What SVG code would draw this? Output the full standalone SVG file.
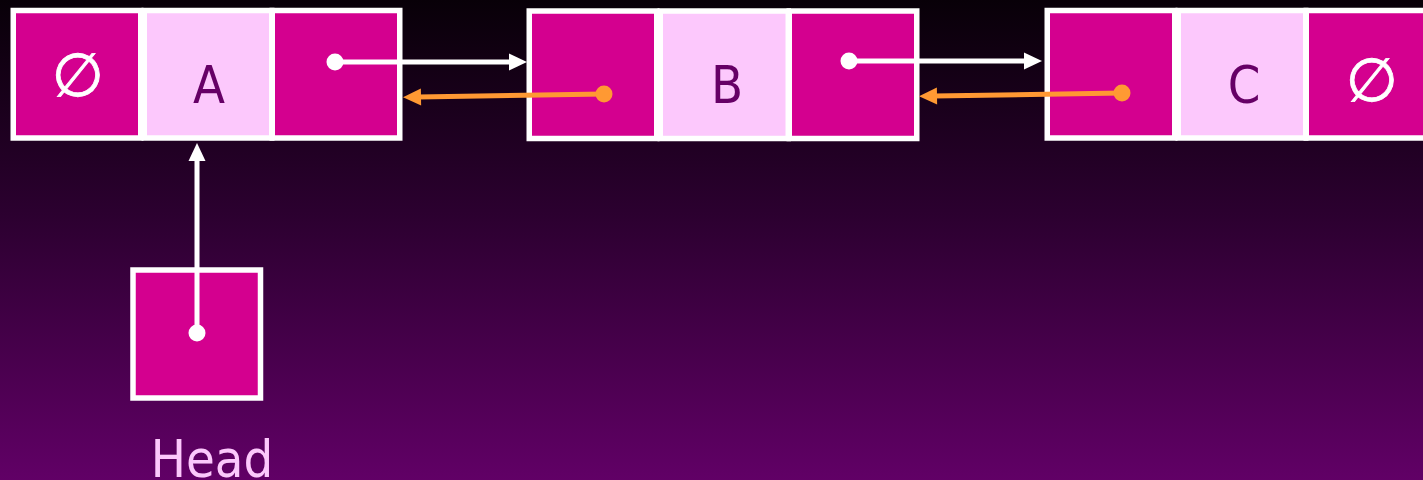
<svg xmlns="http://www.w3.org/2000/svg" width="1423" height="480" viewBox="0 0 1423 480">
  <defs>
    <linearGradient id="bg" x1="0" y1="0" x2="0" y2="1">
      <stop offset="0" stop-color="#080008"/>
      <stop offset="0.45" stop-color="#2c0030"/>
      <stop offset="1" stop-color="#610066"/>
    </linearGradient>
    <marker id="headW" markerUnits="userSpaceOnUse" markerWidth="18" markerHeight="17" refX="3" refY="8.5" orient="auto" overflow="visible">
      <path d="M0,0 L18,8.5 L0,17 Z" fill="#ffffff"/>
    </marker>
    <marker id="headO" markerUnits="userSpaceOnUse" markerWidth="18" markerHeight="17" refX="3" refY="8.5" orient="auto" overflow="visible">
      <path d="M0,0 L18,8.5 L0,17 Z" fill="#ff9933"/>
    </marker>
    <marker id="dotW" markerUnits="userSpaceOnUse" markerWidth="18" markerHeight="18" refX="0" refY="0" overflow="visible">
      <circle cx="0" cy="0" r="8.5" fill="#ffffff"/>
    </marker>
    <marker id="dotO" markerUnits="userSpaceOnUse" markerWidth="18" markerHeight="18" refX="0" refY="0" overflow="visible">
      <circle cx="0" cy="0" r="8.5" fill="#ff9933"/>
    </marker>
  </defs>
  <style>
    .ptr { fill: #d4008f; stroke: #ffffff; stroke-width: 5.5; }
    .val { fill: #fcc8fc; stroke: #ffffff; stroke-width: 5.5; }
    .lbl { font-family: "DejaVu Sans Condensed", "DejaVu Sans", sans-serif; font-size: 52px; fill: #660066; text-anchor: middle; }
    .nil { font-family: "DejaVu Sans", sans-serif; font-size: 60px; fill: #ffffff; stroke: #ffffff; stroke-width: 0.8; text-anchor: middle; }
    .head { font-family: "DejaVu Sans Condensed", "DejaVu Sans", sans-serif; font-size: 52px; fill: #fcc8fc; text-anchor: middle; }
    .fwd { stroke: #ffffff; stroke-width: 5; fill: none; marker-start: url(#dotW); marker-end: url(#headW); }
    .back { stroke: #ff9933; stroke-width: 5; fill: none; marker-start: url(#dotO); marker-end: url(#headO); }
  </style>

  <rect x="0" y="0" width="1423" height="480" fill="url(#bg)"/>

  <!-- node A: prev = null, value A, next -> B -->
  <g id="nodeA">
    <rect class="ptr" x="13.25" y="10.5" width="127.5" height="127.5"/>
    <rect class="val" x="144.25" y="10.5" width="127.5" height="127.5"/>
    <rect class="ptr" x="272.25" y="10.5" width="127.5" height="127.5"/>
    <text class="nil" x="78" y="96">∅</text>
    <text class="lbl" x="209" y="103">A</text>
  </g>

  <!-- node B -->
  <g id="nodeB">
    <rect class="ptr" x="529.25" y="11" width="127.5" height="127.5"/>
    <rect class="val" x="660.25" y="11" width="128" height="127.5"/>
    <rect class="ptr" x="789.25" y="11" width="127.5" height="127.5"/>
    <text class="lbl" x="727" y="103">B</text>
  </g>

  <!-- node C: next = null -->
  <g id="nodeC">
    <rect class="ptr" x="1047.25" y="10.5" width="127.5" height="127.5"/>
    <rect class="val" x="1178.25" y="10.5" width="127.5" height="127.5"/>
    <rect class="ptr" x="1306.25" y="10.5" width="127.5" height="127.5"/>
    <text class="lbl" x="1244" y="103">C</text>
    <text class="nil" x="1372" y="101">∅</text>
  </g>

  <!-- head pointer -->
  <g id="head">
    <rect class="ptr" x="133" y="270" width="127.5" height="128"/>
    <text class="head" x="212" y="477">Head</text>
  </g>

  <g id="connectors">
    <line class="fwd" x1="335" y1="62" x2="512" y2="62"/>
    <line class="fwd" x1="849" y1="61" x2="1027" y2="61"/>
    <line class="back" x1="604" y1="94" x2="418" y2="97"/>
    <line class="back" x1="1122" y1="93" x2="934" y2="96"/>
    <line class="fwd" x1="197" y1="333" x2="197" y2="158"/>
  </g>
</svg>
